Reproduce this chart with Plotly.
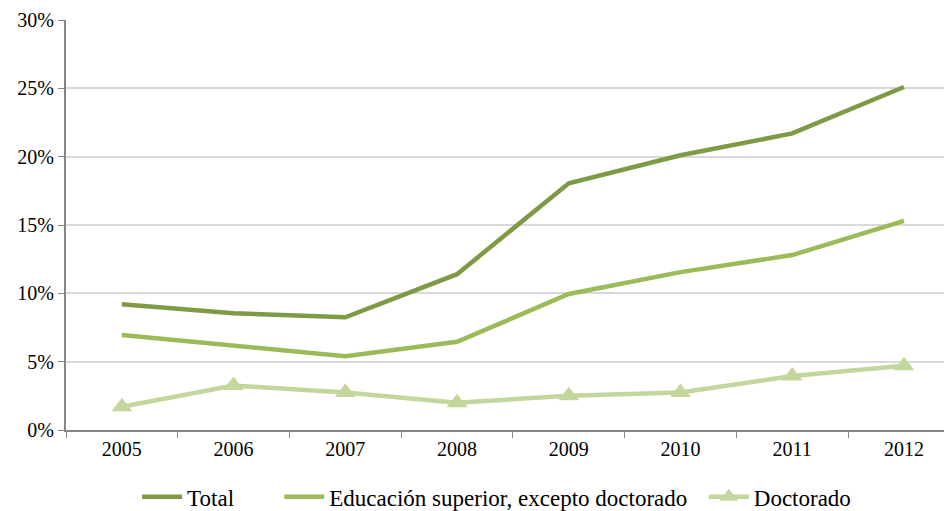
import plotly.graph_objects as go

years = ["2005", "2006", "2007", "2008", "2009", "2010", "2011", "2012"]
total = [9.2, 8.55, 8.25, 11.4, 18.05, 20.1, 21.7, 25.1]
educacion = [6.95, 6.15, 5.4, 6.45, 9.95, 11.55, 12.8, 15.3]
doctorado = [1.7, 3.25, 2.75, 2.0, 2.5, 2.75, 3.95, 4.7]
y_ticks = [0, 5, 10, 15, 20, 25, 30]
y_labels = ["0%", "5%", "10%", "15%", "20%", "25%", "30%"]
series_names = ["Total", "Educación superior, excepto doctorado", "Doctorado"]

SERIF = "Liberation Serif"
NB = "\u00a0"

fig = go.Figure()
fig.add_trace(go.Scatter(x=years, y=total, name=series_names[0] + NB * 7, mode="lines",
                         line=dict(color="#7f9a45", width=4.5)))
fig.add_trace(go.Scatter(x=years, y=educacion, name=series_names[1] + NB * 2,
                         mode="lines", line=dict(color="#9bbb59", width=4.5)))
fig.add_trace(go.Scatter(x=years, y=doctorado, name=series_names[2], mode="lines+markers",
                         line=dict(color="#c3d69b", width=4.5),
                         marker=dict(symbol="triangle-up", size=18, color="#c3d69b")))

# page body has an 8px default margin, so the figure is offset by (8, 8)
fig.update_layout(
    width=944, height=503,
    margin=dict(l=58, r=0, t=12, b=81, autoexpand=False),
    plot_bgcolor="white", paper_bgcolor="white",
    font=dict(family=SERIF, size=20, color="#000000"),
    showlegend=True,
    legend=dict(orientation="h", x=0.486, xanchor="center", y=-0.163, yanchor="middle",
                font=dict(family=SERIF, size=23, color="#000000"), itemwidth=40,
                tracegroupgap=0),
)
fig.update_xaxes(type="category", range=[-0.5, 7.43], tickson="boundaries",
                 ticks="outside", ticklen=6, tickcolor="#868686",
                 showline=True, linecolor="#868686", linewidth=2,
                 showgrid=False, tickfont=dict(family=SERIF, size=20, color="#000000"))
fig.update_yaxes(range=[0, 30], tickvals=y_ticks, ticktext=y_labels,
                 ticks="outside", ticklen=6, tickcolor="#868686",
                 showline=True, linecolor="#868686", linewidth=2,
                 gridcolor="#d9d9d9", gridwidth=1.5, zeroline=False,
                 tickfont=dict(family=SERIF, size=20, color="#000000"))

fig.write_html("out.html")
